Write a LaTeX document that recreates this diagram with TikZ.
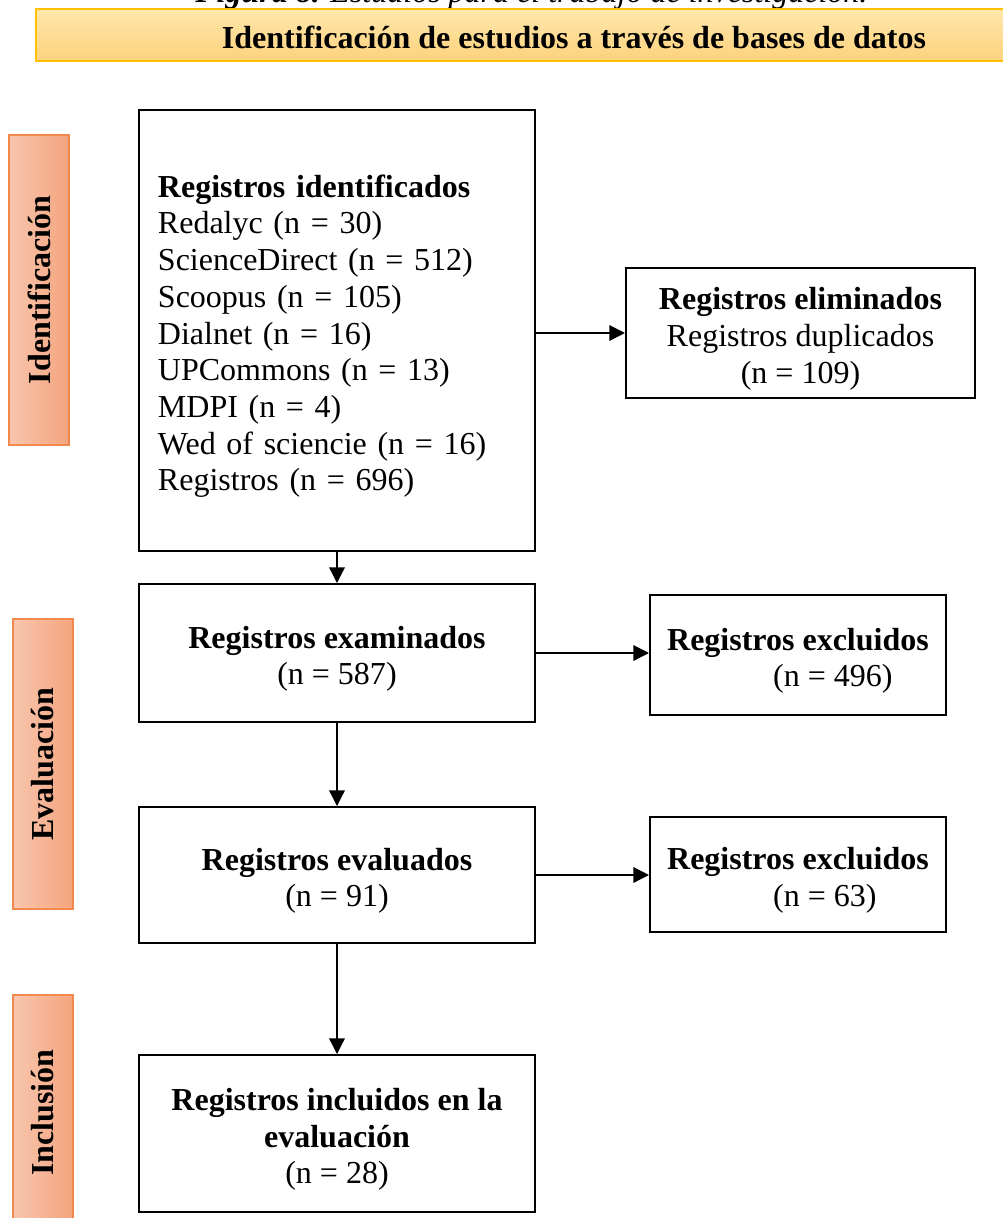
\documentclass[tikz,border=0pt]{standalone}
\usepackage{fontspec}
\setmainfont{Liberation Serif}
\usetikzlibrary{arrows.meta}
\newcommand\myfs{\fontsize{22.76pt}{26.1pt}\selectfont}
\newcommand\mytopstrut{\rule{0pt}{0.85cm}}
\definecolor{bannerborder}{RGB}{255,192,0}
\definecolor{bannertop}{RGB}{255,231,172}
\definecolor{bannerbot}{RGB}{253,210,124}
\definecolor{sideborder}{RGB}{240,138,75}
\definecolor{sideleft}{RGB}{248,198,174}
\definecolor{sideright}{RGB}{244,164,126}
\tikzset{
  box/.style={draw=black, line width=1.4pt, inner sep=0pt, font=\myfs, align=center},
  sidebox/.style={draw=sideborder, line width=1pt, left color=sideleft, right color=sideright,
    inner sep=0pt, minimum width=1.5cm, font=\myfs\bfseries},
  conn/.style={line width=0.9pt, -{Triangle[length=0.39cm,width=0.39cm]}}
}
\begin{document}
\begin{tikzpicture}[x=0.025cm, y=-0.025cm]
\useasboundingbox (0,0) rectangle (1003,1218);
\clip (0,0) rectangle (1003,1218);
% caption (cut off at top, as in the reference)
\node[anchor=base west, inner sep=0pt, font=\myfs] (cap) at (195,2)
  {\textbf{\textit{Figura 8.}} \textit{Estudios para el trabajo de investigación.}};
% banner
\node[draw=bannerborder, line width=1.4pt, top color=bannertop, bottom color=bannerbot,
  minimum width=26.9cm, minimum height=1.3cm, inner sep=0pt] (banner) at (574,35) {};
\node[anchor=base, inner sep=0pt, font=\myfs\bfseries] (bannertext) at (574,48)
  {Identificación de estudios a través de bases de datos};
% side labels
\node[sidebox, minimum height=7.75cm] (sideA) at (39,290) {\rotatebox{90}{Identificación}};
\node[sidebox, minimum height=7.25cm] (sideB) at (43,764) {\rotatebox{90}{Evaluación}};
\node[sidebox, minimum height=5.875cm] (sideC) at (43,1112.5) {\rotatebox{90}{Inclusión}};
% boxes
\node[box, minimum width=9.9cm, minimum height=11.025cm, text width=8.95cm, align=left] (ident) at (337,330.5)
  {\mytopstrut\textbf{Registros identificados}\\
   Redalyc (n = 30)\\
   ScienceDirect (n = 512)\\
   Scoopus (n = 105)\\
   Dialnet (n = 16)\\
   UPCommons (n = 13)\\
   MDPI (n = 4)\\
   Wed of sciencie (n = 16)\\
   Registros (n = 696)};
\node[box, minimum width=8.725cm, minimum height=3.25cm] (elim) at (800.5,333)
  {\mytopstrut\textbf{Registros eliminados}\\Registros duplicados\\(n = 109)};
\node[box, minimum width=9.9cm, minimum height=3.45cm] (exam) at (337,653)
  {\mytopstrut\textbf{Registros examinados}\\(n = 587)};
\node[box, minimum width=7.4cm, minimum height=3cm, align=left] (excla) at (798,655)
  {\mytopstrut\textbf{Registros excluidos}\\\hspace*{2.65cm}(n = 496)};
\node[box, minimum width=9.9cm, minimum height=3.4cm] (eval) at (337,875)
  {\mytopstrut\textbf{Registros evaluados}\\(n = 91)};
\node[box, minimum width=7.4cm, minimum height=2.875cm, align=left] (exclb) at (798,874.5)
  {\mytopstrut\textbf{Registros excluidos}\\\hspace*{2.65cm}(n = 63)};
\node[box, minimum width=9.9cm, minimum height=3.925cm] (incl) at (337,1133.5)
  {\mytopstrut\textbf{Registros incluidos en la}\\\textbf{evaluación}\\(n = 28)};
% connectors
\draw[conn] (ident.east |- elim.west) -- (elim.west);
\draw[conn] (ident.south) -- (exam.north);
\draw[conn] (exam.east) -- (exam.east -| excla.west);
\draw[conn] (exam.south) -- (eval.north);
\draw[conn] (eval.east) -- (eval.east -| exclb.west);
\draw[conn] (eval.south) -- (incl.north);
\end{tikzpicture}
\end{document}
